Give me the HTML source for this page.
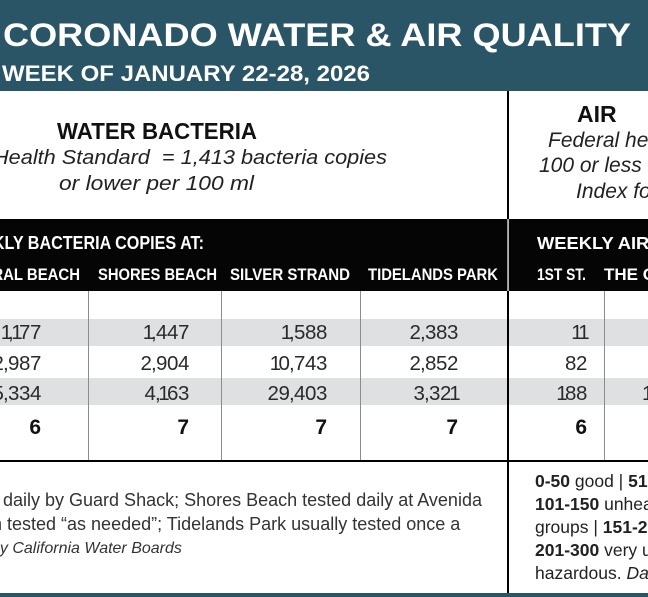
<!DOCTYPE html>
<html>
<head>
<meta charset="utf-8">
<style>
  html, body { margin:0; padding:0; background:#fff; overflow:hidden; }
  svg { display:block; overflow:hidden; }
  text { font-family: "Liberation Sans", "DejaVu Sans", sans-serif; white-space: pre; }
</style>
</head>
<body>
<svg width="648" height="597" viewBox="0 0 648 597" xmlns="http://www.w3.org/2000/svg">
  <rect x="0" y="0" width="648" height="597" fill="#ffffff"/>

  <!-- Header band -->
  <rect x="0" y="0" width="648" height="91" fill="#2a5566"/>
  <text x="3" y="46" font-size="32" font-weight="bold" fill="#ffffff" textLength="628" lengthAdjust="spacingAndGlyphs">CORONADO WATER &amp; AIR QUALITY</text>
  <text x="2" y="81" font-size="22" font-weight="bold" fill="#ffffff" textLength="368" lengthAdjust="spacingAndGlyphs">WEEK OF JANUARY 22-28, 2026</text>

  <!-- Left panel heading -->
  <text x="57" y="139" font-size="23" font-weight="bold" fill="#111111" textLength="200" lengthAdjust="spacingAndGlyphs">WATER BACTERIA</text>
  <text x="-7" y="164" font-size="20" font-style="italic" fill="#222222" textLength="394" lengthAdjust="spacingAndGlyphs">Health Standard  = 1,413 bacteria copies</text>
  <text x="59" y="190" font-size="20" font-style="italic" fill="#222222" textLength="195" lengthAdjust="spacingAndGlyphs">or lower per 100 ml</text>

  <!-- Right panel heading -->
  <text x="577" y="122" font-size="23" font-weight="bold" fill="#111111">AIR</text>
  <text x="548" y="147" font-size="21" font-style="italic" fill="#222222">Federal health standard =</text>
  <text x="539" y="172" font-size="21" font-style="italic" fill="#222222">100 or less on the Air Quality</text>
  <text x="576" y="198" font-size="21" font-style="italic" fill="#222222">Index for more</text>

  <!-- Black header band -->
  <rect x="0" y="219" width="648" height="72" fill="#050505"/>
  <text x="-44" y="249" font-size="18" font-weight="bold" fill="#ffffff" textLength="248" lengthAdjust="spacingAndGlyphs">WEEKLY BACTERIA COPIES AT:</text>
  <text x="537" y="249" font-size="17.5" font-weight="bold" fill="#ffffff" textLength="290" lengthAdjust="spacingAndGlyphs">WEEKLY AIR QUALITY INDEX AT:</text>

  <text x="-30" y="280" font-size="17" font-weight="bold" fill="#ffffff" textLength="110" lengthAdjust="spacingAndGlyphs">CORAL BEACH</text>
  <text x="98" y="280" font-size="17" font-weight="bold" fill="#ffffff" textLength="119" lengthAdjust="spacingAndGlyphs">SHORES BEACH</text>
  <text x="230" y="280" font-size="17" font-weight="bold" fill="#ffffff" textLength="120" lengthAdjust="spacingAndGlyphs">SILVER STRAND</text>
  <text x="368" y="280" font-size="17" font-weight="bold" fill="#ffffff" textLength="130" lengthAdjust="spacingAndGlyphs">TIDELANDS PARK</text>
  <text x="537" y="280" font-size="17" font-weight="bold" fill="#ffffff" textLength="49" lengthAdjust="spacingAndGlyphs">1ST ST.</text>
  <text x="604" y="280" font-size="17" font-weight="bold" fill="#ffffff">THE CAYS</text>

  <!-- Grey striped rows -->
  <rect x="0" y="319" width="648" height="27" fill="#dfe0e2"/>
  <rect x="0" y="378" width="648" height="27" fill="#dfe0e2"/>

  <!-- Column separators -->
  <g stroke="#8c8c8c" stroke-width="1">
    <line x1="88.5" y1="291" x2="88.5" y2="460"/>
    <line x1="221.5" y1="291" x2="221.5" y2="460"/>
    <line x1="360.5" y1="291" x2="360.5" y2="460"/>
    <line x1="604.5" y1="291" x2="604.5" y2="460"/>
  </g>

  <!-- Main vertical divider -->
  <rect x="507" y="91" width="2" height="502" fill="#000000"/>
  <rect x="507.4" y="219" width="1.3" height="72" fill="#ffffff"/>

  <!-- Data values (per-glyph positioned) -->
  <g font-size="20.5" fill="#2a2a2a">
    <text x="0.7 8 11.2 19 30" y="339">1,177</text>
    <text x="142.7 151 156 167 178" y="339">1,447</text>
    <text x="280.7 289 294 305 316" y="339">1,588</text>
    <text x="409.5 420 425 436 447" y="339">2,383</text>
    <text x="571.2 578.2" y="339">11</text>

    <text x="-7.5 3 8 19 30" y="370">2,987</text>
    <text x="140.5 151 156 167 178" y="370">2,904</text>
    <text x="269.7 278.5 289 294 305 316" y="370">10,743</text>
    <text x="409.5 420 425 436 447" y="370">2,852</text>
    <text x="565 576" y="370">82</text>

    <text x="-7.5 3 8 19 30" y="400">5,334</text>
    <text x="144.5 155 158.2 167 178" y="400">4,163</text>
    <text x="267.5 278.5 289 294 305 316" y="400">29,403</text>
    <text x="413.5 424 429 440 449.2" y="400">3,321</text>
    <text x="556.2 565 576" y="400">188</text>
    <text x="642" y="400">1</text>
  </g>

  <g font-size="21" font-weight="bold" fill="#111111" text-anchor="end">
    <text x="41" y="434">6</text>
    <text x="189" y="434">7</text>
    <text x="327" y="434">7</text>
    <text x="458" y="434">7</text>
    <text x="587" y="434">6</text>
  </g>

  <!-- Horizontal rule -->
  <rect x="0" y="460" width="648" height="2" fill="#000000"/>

  <!-- Footer left -->
  <text x="3" y="506" font-size="18" fill="#333333">daily by Guard Shack; Shores Beach tested daily at Avenida</text>
  <text x="-8" y="530" font-size="18" fill="#333333">n</text>
  <text x="7" y="530" font-size="18" fill="#333333">tested “as needed”; Tidelands Park usually tested once a</text>
  <text x="-9" y="553" font-size="16" font-style="italic" fill="#333333">by California Water Boards</text>

  <!-- Footer right -->
  <g font-size="17.5" fill="#222222">
    <text x="535" y="487"><tspan font-weight="bold">0-50</tspan> good | <tspan font-weight="bold">51-100</tspan> moderate |</text>
    <text x="535" y="510"><tspan font-weight="bold">101-150</tspan> unhealthy for sensitive</text>
    <text x="535" y="533">groups | <tspan font-weight="bold">151-200</tspan> unhealthy |</text>
    <text x="535" y="556"><tspan font-weight="bold">201-300</tspan> very unhealthy | 301+</text>
    <text x="535" y="579">hazardous. <tspan font-style="italic">Data from AirNow</tspan></text>
  </g>

  <!-- Bottom band -->
  <rect x="0" y="593" width="648" height="4" fill="#2a5566"/>
</svg>
</body>
</html>
